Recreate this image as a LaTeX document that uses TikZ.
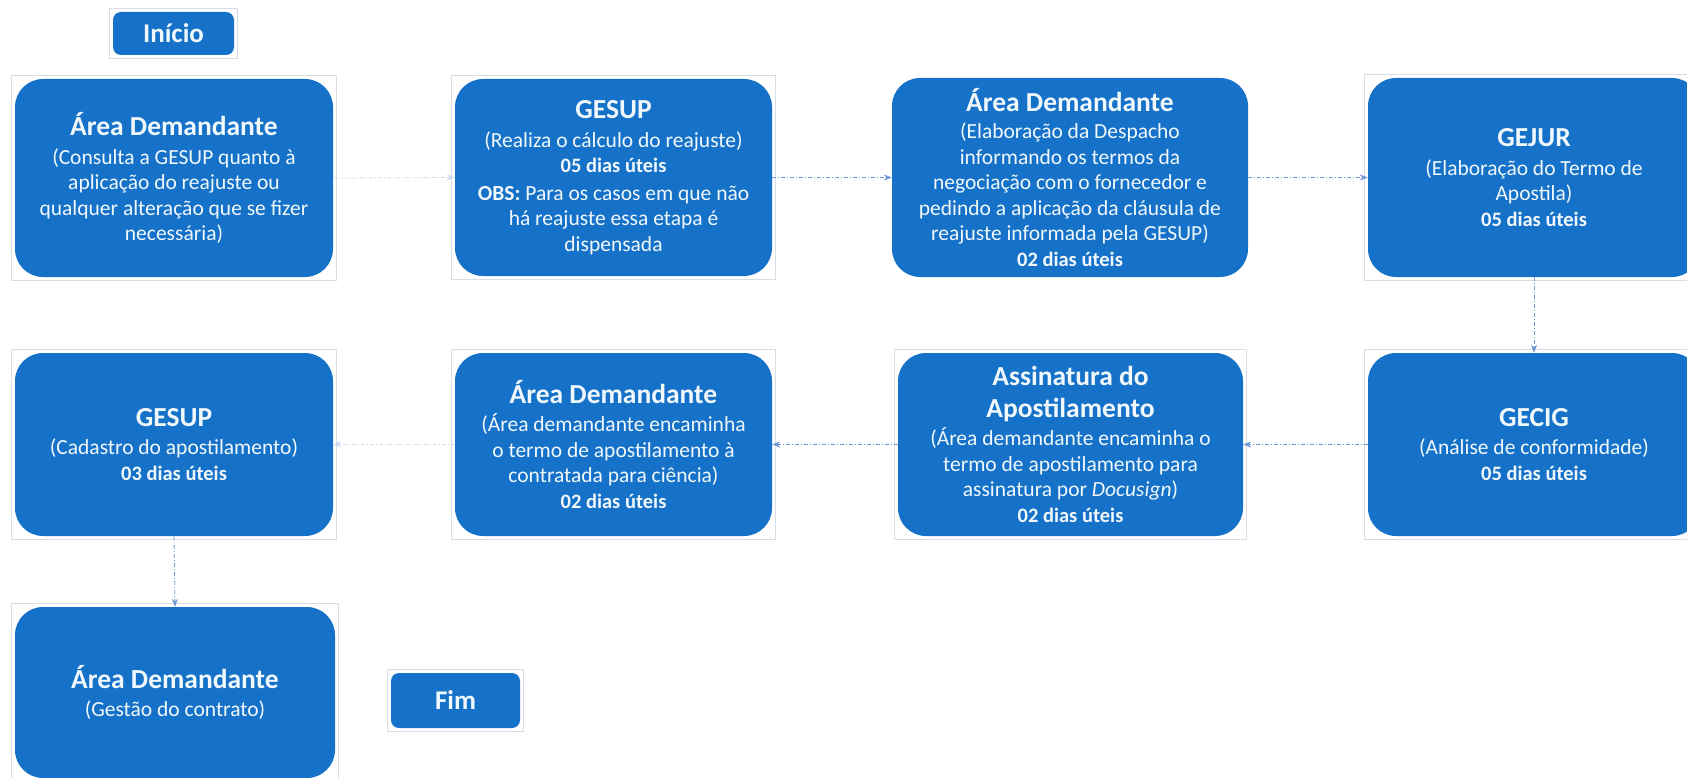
\documentclass[tikz,border=0pt]{standalone}
\usepackage{fontspec}
\setmainfont{Carlito}
\usetikzlibrary{calc,arrows.meta}
\definecolor{boxblue}{RGB}{22,114,200}
\definecolor{frameg}{RGB}{218,220,228}
\definecolor{arrblue}{RGB}{110,150,215}
\definecolor{txtw}{RGB}{240,248,252}
\tikzset{
  box/.style={rectangle, rounded corners=28pt, fill=boxblue, text=txtw, align=center, inner sep=0pt,
    font=\fontsize{21.5}{25.5}\selectfont},
  smallbox/.style={rectangle, rounded corners=8pt, fill=boxblue, text=txtw, align=center, inner sep=0pt,
    font=\fontsize{27}{30}\selectfont\bfseries},
  frame/.style={draw=frameg, line width=0.8pt},
  arr/.style={draw=arrblue, line width=0.8pt, dash pattern=on 4pt off 2pt on 1pt off 2pt, -{Stealth[length=8pt,width=6pt]}},
  faintarr/.style={arr, draw=arrblue!35},
}
\newcommand{\ttl}[1]{{\fontsize{27.5}{30}\selectfont\bfseries #1}}
\newcommand{\dias}[1]{{\fontsize{20.5}{25.5}\selectfont\bfseries #1}}
\begin{document}
\begin{tikzpicture}[x=1pt,y=-1pt]
\useasboundingbox[fill=white] (0,0) rectangle (1687,778);
% nodes
\node[smallbox, minimum width=121pt, minimum height=43pt] (ini) at (173.5,33.5) {Início};
\node[box, minimum width=318pt, minimum height=198pt] (b1) at (174,178)
  {\ttl{Área Demandante}\\[3pt](Consulta a GESUP quanto à\\aplicação do reajuste ou\\qualquer alteração que se fizer\\necessária)};
\node[box, minimum width=317pt, minimum height=197pt] (b2) at (613.5,177.5)
  {\ttl{GESUP}\\[3pt](Realiza o cálculo do reajuste)\\\dias{05 dias úteis}\\[2pt]\textbf{OBS:} Para os casos em que não\\há reajuste essa etapa é\\dispensada};
\node[box, minimum width=356pt, minimum height=199pt] (b3) at (1070,177.5)
  {\ttl{Área Demandante}\\[2pt](Elaboração da Despacho\\informando os termos da\\negociação com o fornecedor e\\pedindo a aplicação da cláusula de\\reajuste informada pela GESUP)\\\dias{02 dias úteis}};
\node[box, minimum width=332pt, minimum height=199pt] (b4) at (1534,177.5)
  {\ttl{GEJUR}\\[3pt](Elaboração do Termo de\\Apostila)\\\dias{05 dias úteis}};
\node[box, minimum width=332pt, minimum height=183pt] (b5) at (1534,444.5)
  {\ttl{GECIG}\\[3pt](Análise de conformidade)\\\dias{05 dias úteis}};
\node[box, minimum width=345pt, minimum height=183pt] (b6) at (1070.5,444.5)
  {\ttl{Assinatura do}\\[6pt]\ttl{Apostilamento}\\[3pt](Área demandante encaminha o\\termo de apostilamento para\\assinatura por \textit{Docusign})\\\dias{02 dias úteis}};
\node[box, minimum width=317pt, minimum height=183pt] (b7) at (613.5,444.5)
  {\ttl{Área Demandante}\\[3pt](Área demandante encaminha\\o termo de apostilamento à\\contratada para ciência)\\\dias{02 dias úteis}};
\node[box, minimum width=318pt, minimum height=183pt] (b8) at (174,444.5)
  {\ttl{GESUP}\\[3pt](Cadastro do apostilamento)\\\dias{03 dias úteis}};
\node[box, minimum width=320pt, minimum height=171pt] (b9) at (175,692.5)
  {\ttl{Área Demandante}\\[3pt](Gestão do contrato)};
\node[smallbox, minimum width=129pt, minimum height=55pt] (fim) at (455.5,700.5) {Fim};
% frames
\foreach \n in {ini,b1,b2,b4,b5,b6,b7,b8,b9,fim}{
  \draw[frame] ($(\n.south west)+(-3,3)$) rectangle ($(\n.north east)+(3,-3)$);
}
% connectors
\draw[faintarr] (b1.east) -- (b2.west);
\draw[arr] (b2.east) -- (b3.west);
\draw[arr] (b3.east) -- (b4.west);
\draw[arr] (b4.south) -- (b5.north);
\draw[arr] (b5.west) -- (b6.east);
\draw[arr] (b6.west) -- (b7.east);
\draw[faintarr] (b7.west) -- (b8.east);
\draw[arr] (b8.south) -- (b9.north);
\end{tikzpicture}
\end{document}
